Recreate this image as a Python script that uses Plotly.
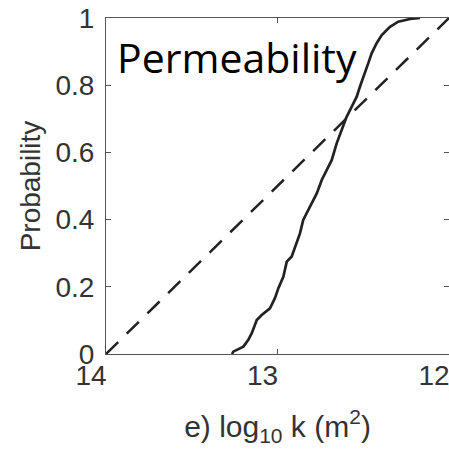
import plotly.graph_objects as go

cdf_x = [13.265, 13.258, 13.199, 13.170, 13.150, 13.121, 13.092, 13.044, 13.015, 12.995,
         12.966, 12.946, 12.917, 12.898, 12.869, 12.850, 12.820, 12.791, 12.771, 12.742,
         12.713, 12.684, 12.655, 12.626, 12.597, 12.567, 12.538, 12.519, 12.490, 12.471,
         12.451, 12.422, 12.392, 12.344, 12.296, 12.227, 12.169]
cdf_p = [0.000, 0.007, 0.022, 0.042, 0.062, 0.101, 0.116, 0.136, 0.166, 0.196,
         0.230, 0.275, 0.290, 0.319, 0.359, 0.399, 0.429, 0.458, 0.478, 0.518,
         0.548, 0.577, 0.627, 0.667, 0.706, 0.736, 0.766, 0.796, 0.835, 0.865,
         0.895, 0.925, 0.949, 0.974, 0.989, 0.997, 1.000]

# Reference (uniform) line
ref_x = [14, 12]
ref_p = [0, 1]

x_ticks = [14, 13, 12]
x_tick_labels = ["14", "13", "12"]
y_ticks = [0, 0.2, 0.4, 0.6, 0.8, 1]
y_tick_labels = ["0", "0.2", "0.4", "0.6", "0.8", "1"]

fig = go.Figure()
fig.add_trace(go.Scatter(x=ref_x, y=ref_p, mode="lines",
                         line=dict(color="#222222", width=2.5, dash="17px,12px"),
                         showlegend=False, hoverinfo="skip"))
fig.add_trace(go.Scatter(x=cdf_x, y=cdf_p, mode="lines",
                         line=dict(color="#222222", width=2.7),
                         showlegend=False))

axis_common = dict(showgrid=False, zeroline=False, showline=True, linecolor="#555555",
                   linewidth=1, mirror="ticks", ticks="inside", ticklen=5,
                   tickcolor="#555555", ticklabeloverflow="allow",
                   tickfont=dict(family="Liberation Sans, Arial", size=28, color="#333333"))

fig.update_layout(
    width=449, height=456,
    margin=dict(l=106, r=0, t=18, b=102, autoexpand=False),
    paper_bgcolor="white", plot_bgcolor="white",
    xaxis=dict(range=[14, 12], tickvals=x_ticks, ticktext=x_tick_labels,
               ticklabelshift=15, ticklabelstandoff=-4, automargin=True,
               title=dict(text="e) log<sub>10</sub> k (m<sup>2</sup>)", standoff=26,
                          font=dict(family="Liberation Sans, Arial", size=30, color="#333333")),
               **axis_common),
    yaxis=dict(range=[0, 1], tickvals=y_ticks, ticktext=y_tick_labels, automargin=True,
               ticklabelstandoff=5,
               title=dict(text="Probability", standoff=6,
                          font=dict(family="Liberation Sans, Arial", size=28, color="#333333")),
               **axis_common),
    annotations=[dict(text="Permeability", xref="paper", yref="paper",
                      x=0.026, y=0.885, xanchor="left", yanchor="middle",
                      showarrow=False,
                      font=dict(family="Open Sans", size=41, color="black"))],
)

fig.write_html("out.html", config={"displayModeBar": False},
               post_script="document.body.style.margin='0';")
